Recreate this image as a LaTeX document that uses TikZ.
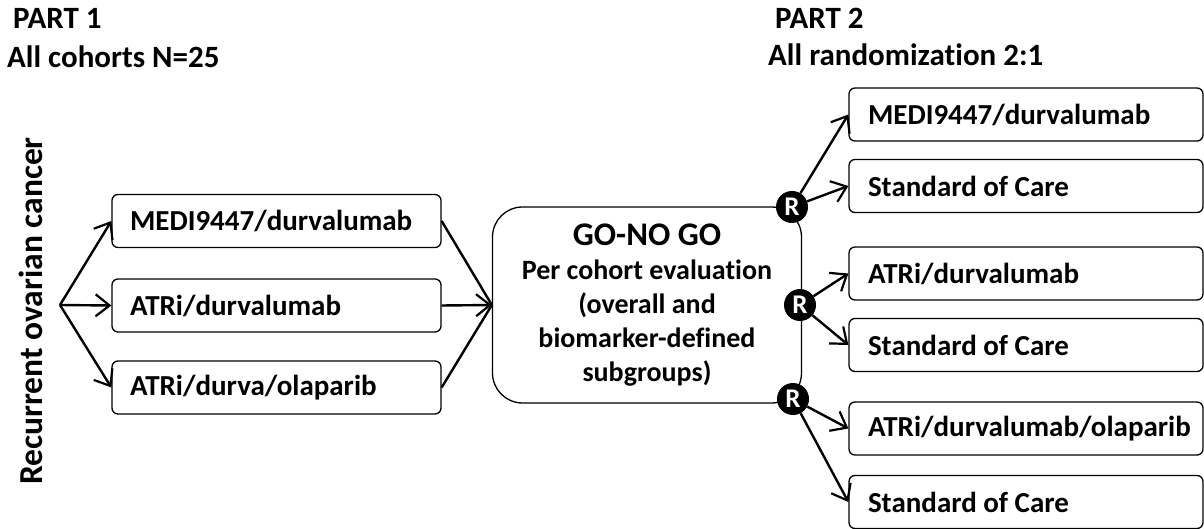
\documentclass[tikz,border=0pt]{standalone}
\usepackage{fontspec}
\setmainfont{Carlito}[Ligatures=NoCommon]
\usetikzlibrary{arrows.meta}

\begin{document}
\begin{tikzpicture}[x=1pt,y=-1pt,
  kopf/.style={anchor=base west, inner sep=0pt, font=\fontsize{31}{34}\selectfont\bfseries},
  armbox/.style={draw, line width=1.3pt, rounded corners=6pt, minimum height=53pt,
    inner xsep=18pt, inner ysep=0pt, align=flush left, font=\fontsize{29}{32}\selectfont\bfseries},
  linksbox/.style={armbox, text width=293pt},
  rechtsbox/.style={armbox, text width=316pt, inner xsep=19pt},
  gobox/.style={draw, line width=1.3pt, rounded corners=30pt, minimum width=309pt, minimum height=196pt,
    align=center, font=\fontsize{28}{34}\selectfont\bfseries},
  rnode/.style={shape=circle, fill=black, inner sep=0pt, minimum size=32pt, text=white,
    font=\fontsize{27}{27}\selectfont\bfseries},
  pfeil/.style={line width=2.4pt, -{Straight Barb[length=14pt,width=22pt,line width=2.2pt]}},
  linie/.style={line width=2.4pt}]
\useasboundingbox (0,0) rectangle (1204,529);

%TEIL 1 (links oben)
\node[kopf] (part1) at (13,29) {PART 1};
\node[kopf] (cohorts) at (7,68) {All cohorts N=25};

%TEIL 2 (rechts oben)
\node[kopf] (part2) at (775,29) {PART 2};
\node[kopf] (randomization) at (768,66) {All randomization 2:1};

%SEITLICHE BESCHRIFTUNG
\node[rotate=90, font=\fontsize{33.5}{36}\selectfont\bfseries] (disease) at (31,311) {Recurrent ovarian cancer};

%KOHORTEN IN TEIL 1 (von oben)
\node[linksbox] (medi) at (276.5,221) {MEDI9447/durvalumab};
\node[linksbox] (atri) at (276.5,305.5) {ATRi/durvalumab};
\node[linksbox] (olap) at (276.5,387.5) {ATRi/durva/olaparib};

%VERZWEIGUNG
\coordinate (fork) at (60,305);
\draw[pfeil] (fork) -- (medi.west);
\draw[pfeil] (fork) -- (atri.west);
\draw[pfeil] (fork) -- (olap.west);

%ENTSCHEIDUNG
\node[gobox] (gonogo) at (647,305) {{\fontsize{33}{36}\selectfont GO-NO GO}\\Per cohort evaluation\\(overall and\\biomarker-defined\\subgroups)};
\draw[linie] (medi.east) -- (gonogo.west);
\draw[pfeil] (atri.east) -- (gonogo.west);
\draw[linie] (olap.east) -- (gonogo.west);

%RANDOMISIERUNG
\node[rnode] (r1) at (792,207) {R};
\node[rnode] (r2) at (800,305) {R};
\node[rnode] (r3) at (793,399) {R};

%ARME IN TEIL 2 (von oben)
\node[rechtsbox] (medi2) at (1026,114.5) {MEDI9447/durvalumab};
\node[rechtsbox] (soc1) at (1026,186) {Standard of Care};
\node[rechtsbox] (atri2) at (1026,273.5) {ATRi/durvalumab};
\node[rechtsbox] (soc2) at (1026,345) {Standard of Care};
\node[rechtsbox] (olap2) at (1026,428.5) {ATRi/durvalumab/olaparib};
\node[rechtsbox] (soc3) at (1026,502) {Standard of Care};

\draw[pfeil] (r1) -- (medi2.west);
\draw[pfeil] (r1) -- (soc1.west);
\draw[pfeil] (r2) -- (atri2.west);
\draw[pfeil] (r2) -- (soc2.west);
\draw[pfeil] (r3) -- (olap2.west);
\draw[pfeil] (r3) -- (soc3.west);

\end{tikzpicture}
\end{document}
